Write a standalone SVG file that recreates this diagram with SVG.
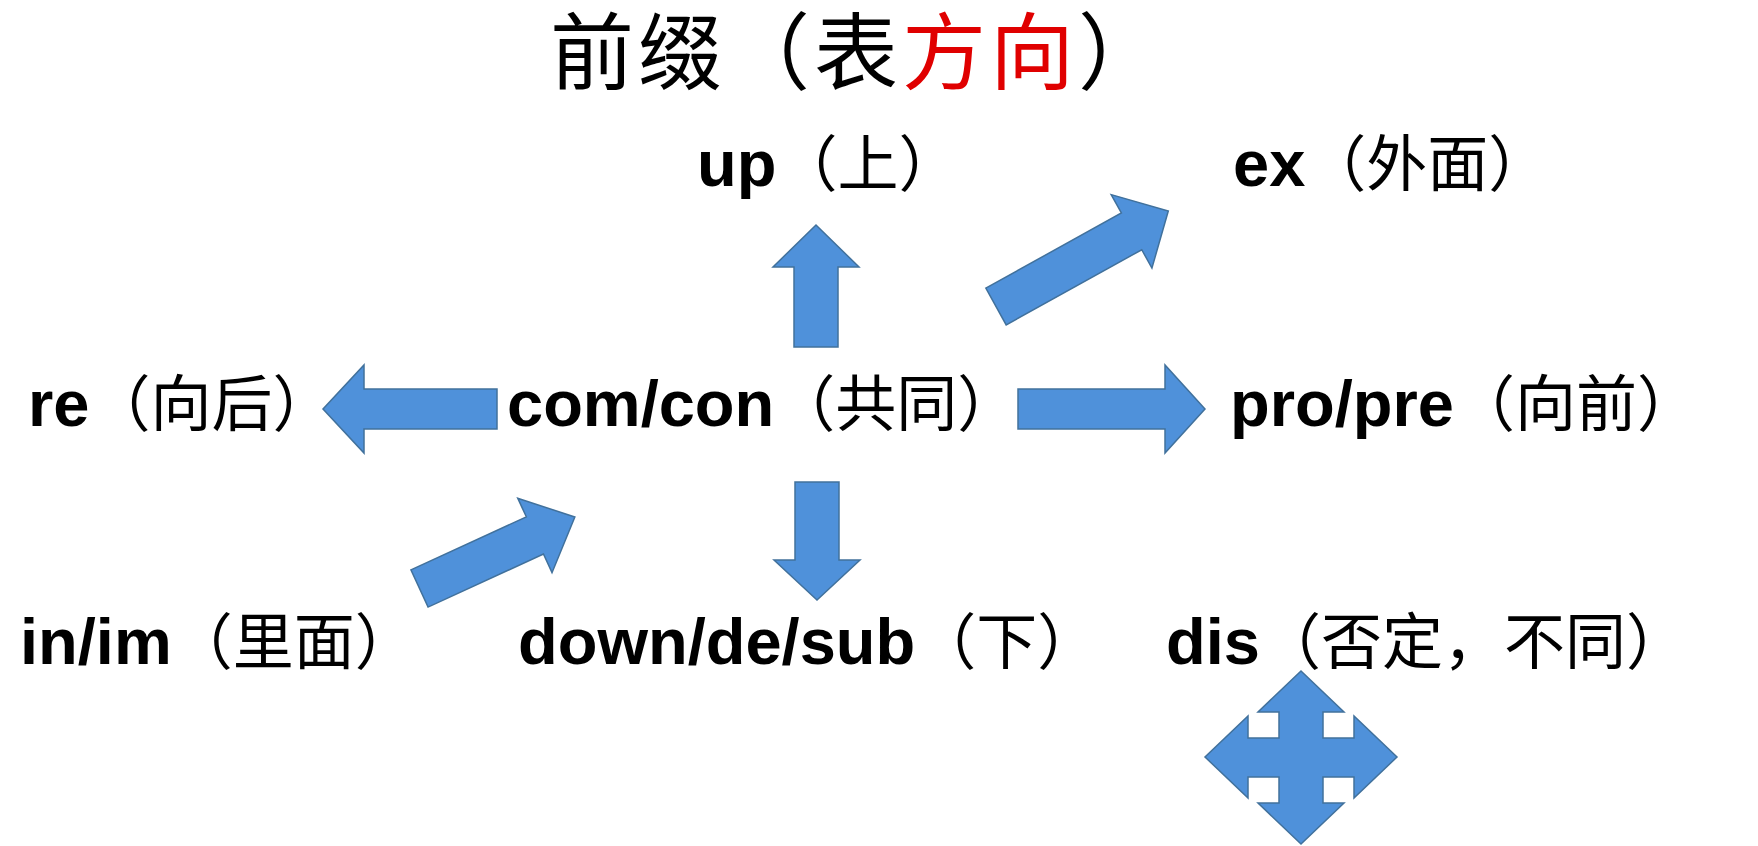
<svg xmlns="http://www.w3.org/2000/svg" width="1758" height="846" viewBox="0 0 1758 846">
<style>
.lbl{font-size:65px;fill:#000}
.en{font-family:"Liberation Sans",Arial,sans-serif;font-weight:bold}
.zh{font-family:"Noto Sans CJK SC",sans-serif;font-weight:normal;font-size:61px}
.title{font-family:"Noto Sans CJK SC",sans-serif;font-size:84px;letter-spacing:4px;fill:#000}
.red{fill:#E00000}
.arr{fill:#4F91DA;stroke:#41719C;stroke-width:1.5;stroke-linejoin:miter}
</style>
<rect width="1758" height="846" fill="#fff"/>
<g id="title"><text class="title" x="550" y="83">前缀（表<tspan class="red">方向</tspan>）</text></g>
<g id="node-up"><text class="lbl" x="697" y="186"><tspan class="en">up</tspan><tspan class="zh">（上）</tspan></text></g>
<g id="node-ex"><text class="lbl" x="1233" y="186"><tspan class="en">ex</tspan><tspan class="zh">（外面）</tspan></text></g>
<g id="node-re"><text class="lbl" x="28" y="426"><tspan class="en">re</tspan><tspan class="zh">（向后）</tspan></text></g>
<g id="node-com"><text class="lbl" x="507" y="426"><tspan class="en">com/con</tspan><tspan class="zh">（共同）</tspan></text></g>
<g id="node-pro"><text class="lbl" x="1230" y="426"><tspan class="en">pro/pre</tspan><tspan class="zh">（向前）</tspan></text></g>
<g id="node-in"><text class="lbl" x="20" y="664"><tspan class="en">in/im</tspan><tspan class="zh">（里面）</tspan></text></g>
<g id="node-down"><text class="lbl" x="518" y="664"><tspan class="en">down/de/sub</tspan><tspan class="zh">（下）</tspan></text></g>
<g id="node-dis"><text class="lbl" x="1166" y="664"><tspan class="en">dis</tspan><tspan class="zh">（否定，不同）</tspan></text></g>
<g id="connectors">
<path class="arr" transform="translate(816,347) rotate(-90)" d="M0,-22 L80,-22 L80,-43 L122,0 L80,43 L80,22 L0,22 Z"/>
<path class="arr" transform="translate(996,306.5) rotate(-29)" d="M0,-21 L155,-21 L155,-42 L197,0 L155,42 L155,21 L0,21 Z"/>
<path class="arr" transform="translate(497,409) rotate(180)" d="M0,-20 L133,-20 L133,-44 L174,0 L133,44 L133,20 L0,20 Z"/>
<path class="arr" transform="translate(1018,409)" d="M0,-20 L147,-20 L147,-44 L187,0 L147,44 L147,20 L0,20 Z"/>
<path class="arr" transform="translate(817,482) rotate(90)" d="M0,-22 L78,-22 L78,-43 L118,0 L78,43 L78,22 L0,22 Z"/>
<path class="arr" transform="translate(419.5,588.5) rotate(-24.7)" d="M0,-20.5 L127,-20.5 L127,-41 L171,0 L127,41 L127,20.5 L0,20.5 Z"/>
</g>
<g id="node-dis-arrow">
<path class="arr" d="M1301,671 L1344,712 L1323,712 L1323,738 L1354,738 L1354,716 L1397,757 L1354,798 L1354,777 L1323,777 L1323,803 L1344,803 L1301,844 L1258,803 L1279,803 L1279,777 L1248,777 L1248,798 L1205,757 L1248,716 L1248,738 L1279,738 L1279,712 L1258,712 Z"/>
</g>
</svg>
